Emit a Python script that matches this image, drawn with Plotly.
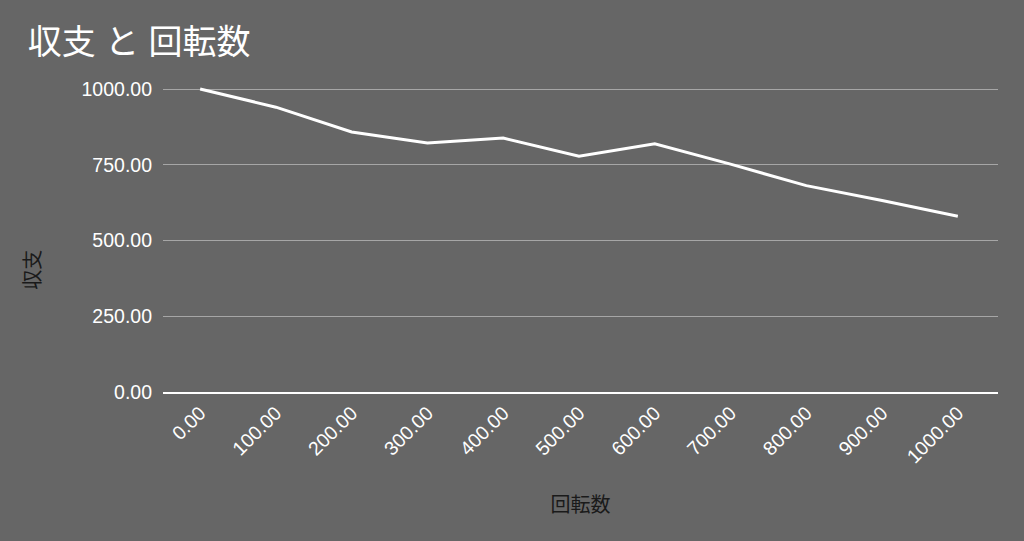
import plotly.graph_objects as go

spins = [0, 100, 200, 300, 400, 500, 600, 700, 800, 900, 1000]
balance = [1000, 940, 858, 822, 838, 778, 819, 752, 681, 632, 580]
x_ticks = [0, 100, 200, 300, 400, 500, 600, 700, 800, 900, 1000]
y_ticks = [0, 250, 500, 750, 1000]

FONT = "'Liberation Sans', Arial, 'Noto Sans CJK JP', sans-serif"
BG = "#666666"

fig = go.Figure()
fig.add_trace(go.Scatter(
    x=spins, y=balance, mode="lines",
    line=dict(color="#ffffff", width=3),
    cliponaxis=False, showlegend=False,
))

fig.update_layout(
    width=1024, height=541,
    paper_bgcolor=BG, plot_bgcolor=BG,
    margin=dict(l=163, r=26, t=80, b=149),
    font=dict(family=FONT, color="#ffffff"),
    title=dict(text="収支 と 回転数", x=0.027, xanchor="left", y=0.922, yanchor="middle",
               font=dict(size=34, color="#ffffff", family=FONT)),
    annotations=[dict(
        text="収支", xref="paper", yref="paper", x=-0.156, y=0.391,
        xanchor="center", yanchor="middle", textangle=-90, showarrow=False,
        font=dict(size=20, color="#1a1a1a", family=FONT),
    )],
)
fig.update_xaxes(
    range=[-49, 1053], tickmode="array", tickvals=x_ticks,
    ticktext=[f"{v:.2f}" for v in x_ticks], tickangle=-45,
    tickfont=dict(size=19.5, color="#ffffff"),
    showgrid=False, zeroline=False,
    showline=True, linecolor="#ffffff", linewidth=2,
    ticks="", ticklen=0,
    title=dict(text="回転数", font=dict(size=20, color="#1a1a1a"), standoff=32),
)
fig.update_yaxes(
    range=[0, 1029.7], tickmode="array", tickvals=y_ticks,
    ticktext=[f"{v:.2f}" for v in y_ticks],
    tickfont=dict(size=19.5, color="#ffffff"),
    showgrid=True, gridcolor="#a6a6a6", gridwidth=1,
    zeroline=False, showline=False, ticks="", ticklabelstandoff=10,
)

fig.write_html("out.html", config={"displayModeBar": False},
               post_script="document.body.style.margin='0';")
